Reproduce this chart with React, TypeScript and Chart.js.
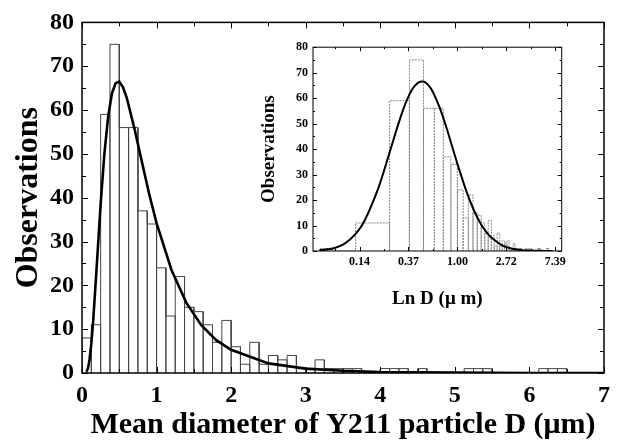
import React, { useEffect, useRef } from 'react';
import { Chart, registerables } from 'chart.js';

Chart.register(...registerables);

// ---- Data ----
const binWidth = 0.125; // µm, histogram bin width
const counts = [
  8, 11, 59, 75, 56, 56, 37, 34, 24, 13, 22, 15, 14, 11, 7, 12, 6, 2, 7, 2,
  4, 3, 4, 1, 1, 3, 1, 1, 1, 1, 0, 0, 1, 1, 1, 0, 1, 0, 0, 0,
  0, 1, 1, 1, 0, 0, 0, 0, 0, 1, 1, 1, 0, 0, 0, 0,
];
// fitted log-normal curve
const curveD = [0.06, 0.08, 0.1, 0.125, 0.15, 0.2, 0.25, 0.3, 0.35, 0.4, 0.45, 0.5, 0.55, 0.6, 0.7, 0.8, 0.9, 1.0, 1.2, 1.4, 1.6, 1.8, 2.0, 2.5, 3.0, 3.5, 4.0, 5.0, 6.0, 7.0];
const curveY = [0.3, 1.1, 2.9, 6.7, 11.9, 25.0, 38.6, 50.0, 58.4, 63.7, 66.1, 66.5, 65.2, 62.8, 56.0, 48.4, 40.9, 34.2, 23.5, 16.0, 10.9, 7.5, 5.3, 2.2, 1.0, 0.5, 0.2, 0.1, 0.0, 0.0];

// inset (log axis)
const insetLowEdges = [0.06, 0.08];
const insetLowCounts = [1];
const insetTickValues = [-2, -1, 0, 1, 2];
const insetTickLabels = ['0.14', '0.37', '1.00', '2.72', '7.39'];

// axis texts
const mainXTitle = 'Mean diameter of Y211 particle D (μm)';
const mainYTitle = 'Observations';
const insetXTitle = 'Ln D (μ m)';
const insetYTitle = 'Observations';

const SERIF = "'Liberation Serif', 'Times New Roman', serif";

function outline(edgesX: number[][], values: number[]) {
  const pts: { x: number; y: number }[] = [];
  values.forEach((c, i) => {
    const [x0, x1] = edgesX[i];
    pts.push({ x: x0, y: 0 }, { x: x0, y: c }, { x: x1, y: c }, { x: x1, y: 0 });
  });
  return pts;
}

const framePlugin = {
  id: 'frame',
  afterDatasetsDraw(chart: any, _args: any, opts: any) {
    const { ctx, chartArea } = chart;
    const { left, right, top, bottom } = chartArea;
    const x = chart.scales.x;
    const y = chart.scales.y;
    ctx.save();
    ctx.strokeStyle = '#000';
    ctx.lineWidth = opts.lineWidth;
    ctx.strokeRect(left, top, right - left, bottom - top);
    ctx.lineWidth = 1;
    ctx.beginPath();
    const isMajor = (v: number, m: number) => Math.abs(v / m - Math.round(v / m)) < 1e-6;
    const x0 = Math.ceil(x.min / opts.xMinor - 1e-9) * opts.xMinor;
    for (let v = x0; v <= x.max + 1e-9; v += opts.xMinor) {
      const px = Math.round(x.getPixelForValue(v)) + 0.5;
      const len = isMajor(v, opts.xMajor) ? opts.majorLen : opts.minorLen;
      ctx.moveTo(px, bottom); ctx.lineTo(px, bottom - len);
      ctx.moveTo(px, top); ctx.lineTo(px, top + len);
    }
    const y0 = Math.ceil(y.min / opts.yMinor - 1e-9) * opts.yMinor;
    for (let v = y0; v <= y.max + 1e-9; v += opts.yMinor) {
      const py = Math.round(y.getPixelForValue(v)) + 0.5;
      const len = isMajor(v, opts.yMajor) ? opts.majorLen : opts.minorLen;
      ctx.moveTo(left, py); ctx.lineTo(left + len, py);
      ctx.moveTo(right, py); ctx.lineTo(right - len, py);
    }
    ctx.stroke();
    ctx.restore();
  },
};

export default function App() {
  const mainRef = useRef<HTMLCanvasElement>(null);
  const insetRef = useRef<HTMLCanvasElement>(null);

  useEffect(() => {
    const mainEdges = counts.map((_, i) => [i * binWidth, (i + 1) * binWidth]);
    const mainHist = outline(mainEdges, counts);
    const mainCurve = curveD.map((d, i) => ({ x: d, y: curveY[i] }));

    const tickFontMain = { family: SERIF, size: 24, weight: 'bold' as const };
    const main = new Chart(mainRef.current!, {
      type: 'scatter',
      data: {
        datasets: [
          { data: mainCurve, showLine: true, borderColor: '#000', borderWidth: 2.6, pointRadius: 0, tension: 0, order: 0 },
          { data: mainHist, showLine: true, borderColor: '#444', borderWidth: 1, pointRadius: 0, tension: 0, order: 1 },
        ],
      },
      options: {
        animation: false,
        responsive: false,
        maintainAspectRatio: false,
        layout: { padding: { top: 17, right: 5, left: 0, bottom: 0 } },
        plugins: {
          legend: { display: false },
          tooltip: { enabled: false },
          frame: { lineWidth: 1.5, xMajor: 1, xMinor: 0.5, yMajor: 10, yMinor: 5, majorLen: 6, minorLen: 4 },
        } as any,
        scales: {
          x: {
            type: 'linear', min: 0, max: 7,
            ticks: { stepSize: 1, font: tickFontMain, color: '#000', padding: 8, maxRotation: 0 },
            grid: { display: false, drawTicks: false },
            border: { display: false },
            title: { display: true, text: mainXTitle, color: '#000', font: { family: SERIF, size: 30, weight: 'bold', lineHeight: 1.1 }, padding: { top: 0, bottom: 1 } },
            afterFit: (s: any) => { s.height = 70; },
          },
          y: {
            type: 'linear', min: 0, max: 80,
            ticks: { stepSize: 10, font: tickFontMain, color: '#000', padding: 8 },
            grid: { display: false, drawTicks: false },
            border: { display: false },
            title: { display: true, text: mainYTitle, color: '#000', font: { family: SERIF, size: 32, weight: 'bold' }, padding: { top: 10, bottom: 0 } },
            afterFit: (s: any) => { s.width = 82; },
          },
        },
      },
      plugins: [framePlugin],
    });

    const insetEdges: number[][] = [];
    const insetVals: number[] = [];
    insetLowCounts.forEach((c, i) => {
      insetEdges.push([Math.log(insetLowEdges[i]), Math.log(insetLowEdges[i + 1])]);
      insetVals.push(c);
    });
    counts.forEach((c, i) => {
      if (i === 0) return;
      const lo = Math.log(i * binWidth);
      const hi = Math.log((i + 1) * binWidth);
      if (hi > 2.13) return;
      insetEdges.push([lo, hi]);
      insetVals.push(c);
    });
    const insetHist = outline(insetEdges, insetVals);
    const insetCurve = curveD.map((d, i) => ({ x: Math.log(d), y: curveY[i] }));
    const tickFontInset = { family: SERIF, size: 12, weight: 'bold' as const };

    const inset = new Chart(insetRef.current!, {
      type: 'scatter',
      data: {
        datasets: [
          { data: insetCurve, showLine: true, borderColor: '#000', borderWidth: 2, pointRadius: 0, tension: 0.3, order: 0 },
          { data: insetHist, showLine: true, borderColor: '#888', borderWidth: 1, borderDash: [2, 1], pointRadius: 0, tension: 0, order: 1 },
        ],
      },
      options: {
        animation: false,
        responsive: false,
        maintainAspectRatio: false,
        layout: { padding: { top: 8, right: 7, left: 0, bottom: 0 } },
        plugins: {
          legend: { display: false },
          tooltip: { enabled: false },
          frame: { lineWidth: 1, xMajor: 1, xMinor: 0.5, yMajor: 10, yMinor: 5, majorLen: 4, minorLen: 2 },
        } as any,
        scales: {
          x: {
            type: 'linear', min: -2.95, max: 2.13,
            afterBuildTicks: (s: any) => { s.ticks = insetTickValues.map((v) => ({ value: v })); },
            ticks: {
              font: tickFontInset, color: '#000', padding: 4, maxRotation: 0,
              callback: (_v: any, idx: number) => insetTickLabels[idx],
            },
            grid: { display: false, drawTicks: false },
            border: { display: false },
            title: { display: true, text: insetXTitle, color: '#000', font: { family: SERIF, size: 19, weight: 'bold' }, padding: { top: 0, bottom: 5 } },
            afterFit: (s: any) => { s.height = 64; },
          },
          y: {
            type: 'linear', min: 0, max: 80,
            ticks: { stepSize: 10, font: tickFontInset, color: '#000', padding: 5 },
            grid: { display: false, drawTicks: false },
            border: { display: false },
            title: { display: true, text: insetYTitle, color: '#000', font: { family: SERIF, size: 19, weight: 'bold' }, padding: { top: 18, bottom: 0 } },
            afterFit: (s: any) => { s.width = 73; },
          },
        },
      },
      plugins: [framePlugin],
    });

    return () => {
      main.destroy();
      inset.destroy();
    };
  }, []);

  return (
    <div style={{ position: 'absolute', left: 0, top: 0, width: 618, height: 443, background: '#fff' }}>
      <canvas ref={mainRef} width={618} height={443} style={{ position: 'absolute', left: 0, top: 0, width: 618, height: 443 }} />
      <canvas ref={insetRef} width={330} height={280} style={{ position: 'absolute', left: 240, top: 35, width: 330, height: 280 }} />
    </div>
  );
}
